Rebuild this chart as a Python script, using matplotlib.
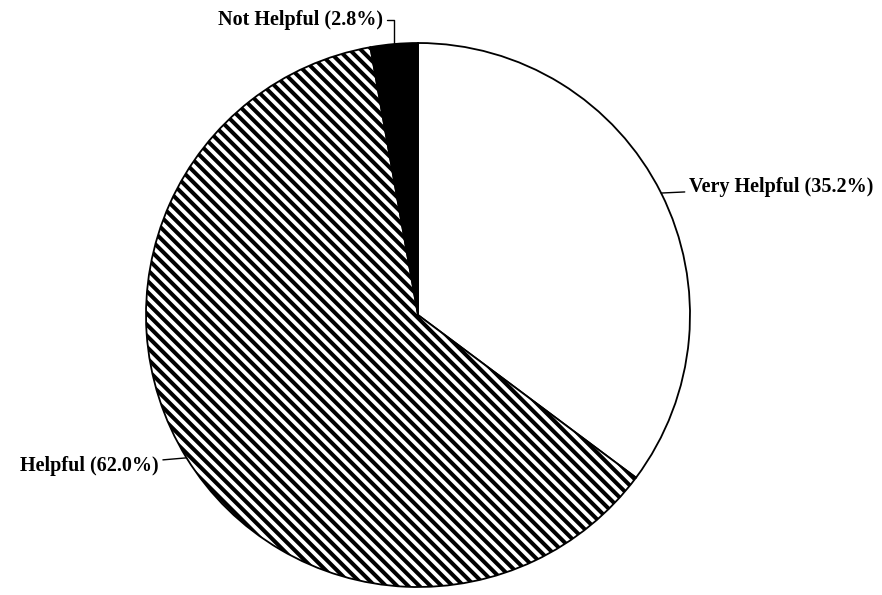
import numpy as np
import matplotlib
matplotlib.use('Agg')
import matplotlib.pyplot as plt

labels = ['Very Helpful', 'Helpful', 'Not Helpful']
shares = [35.2, 62.0, 2.8]
colors = ['white', 'white', 'black']
hatches = ['', '\\\\\\', '']

plt.rcParams['hatch.linewidth'] = 2.9
plt.rcParams['font.family'] = ['Liberation Serif', 'DejaVu Serif']

W, H = 882, 595
cx, cy, r = 418, 315, 272

fig = plt.figure(figsize=(W / 100, H / 100), dpi=100)
ax = fig.add_axes([0, 0, 1, 1])

wedges, _ = ax.pie(shares, colors=colors, startangle=90, counterclock=False,
                   wedgeprops=dict(edgecolor='black', linewidth=1.3))
for w, h in zip(wedges, hatches):
    w.set_hatch(h)

ax.set_xlim(-cx / r, (W - cx) / r)
ax.set_ylim(-(H - cy) / r, cy / r)
ax.set_aspect('equal')
ax.axis('off')

# label offsets in points, and connection styles
offsets = [(20, 4), (-20, -6), (-8, 17)]
aligns = ['left', 'right', 'right']
conns = ['arc3,rad=0', 'arc3,rad=0', 'angle,angleA=0,angleB=90,rad=0']

for w, lab, s, off, ha, cs in zip(wedges, labels, shares, offsets, aligns, conns):
    ang = np.deg2rad((w.theta1 + w.theta2) / 2)
    x, y = np.cos(ang), np.sin(ang)
    ax.annotate(f'{lab} ({s:.1f}%)', xy=(x, y), xytext=off,
                textcoords='offset points', ha=ha, va='center',
                fontsize=14.5, fontweight='bold',
                arrowprops=dict(arrowstyle='-', color='black', lw=1,
                                connectionstyle=cs, shrinkA=1, shrinkB=0))

plt.savefig('out.png', dpi=100)
